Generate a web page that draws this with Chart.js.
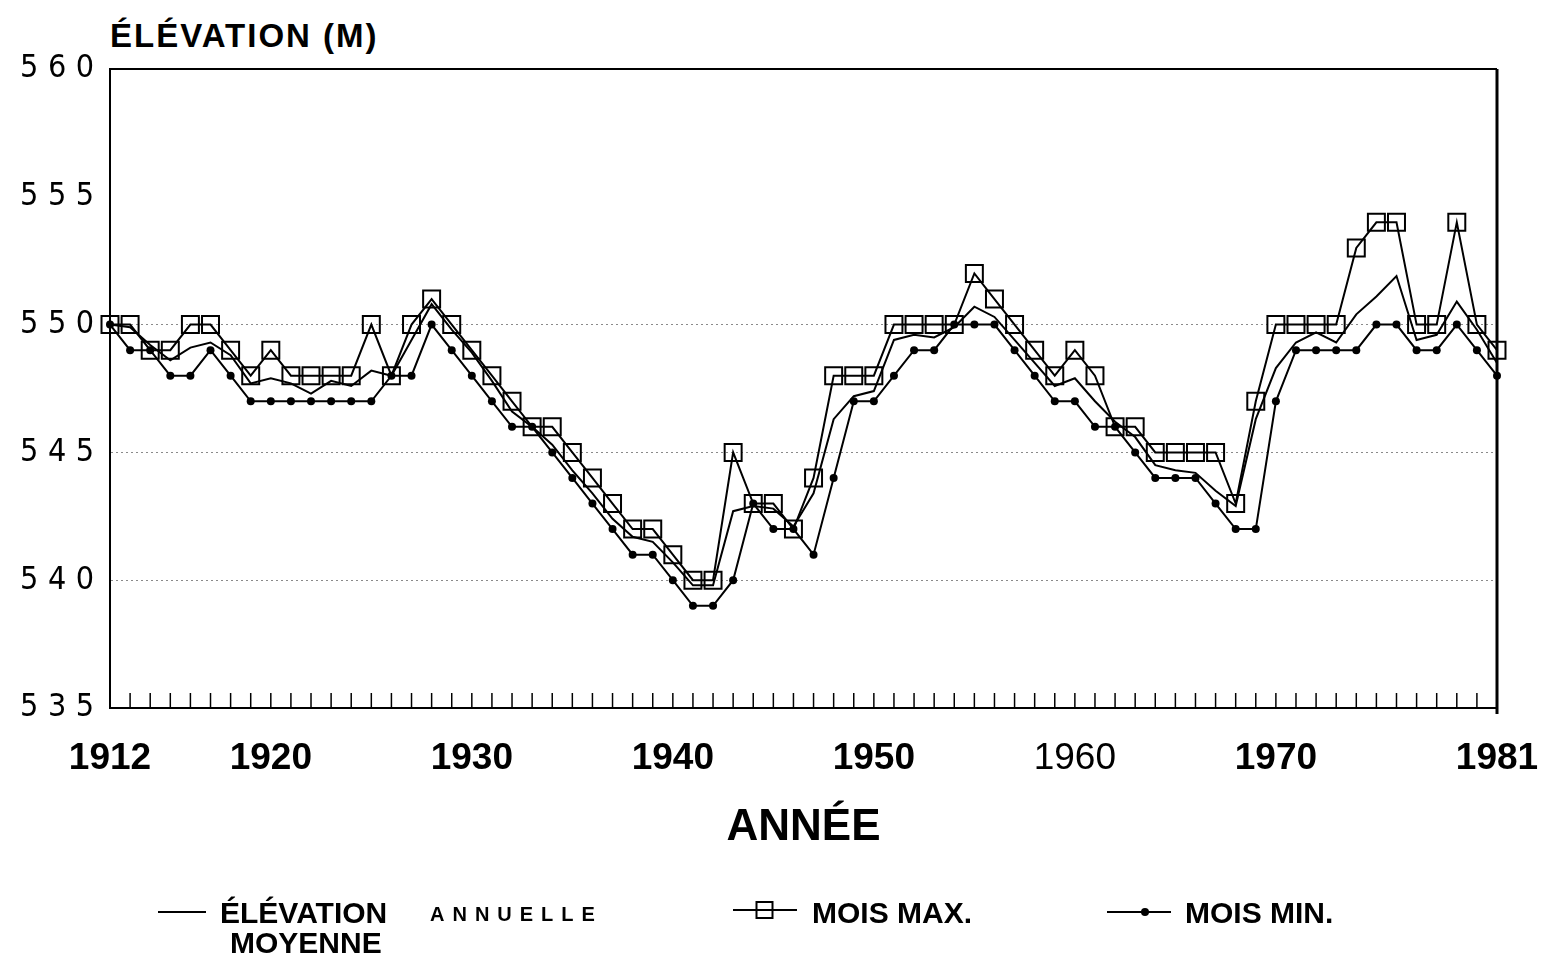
<!DOCTYPE html>
<html lang="fr">
<head>
<meta charset="utf-8">
<title>Élévation annuelle</title>
<script src="https://cdn.jsdelivr.net/npm/chart.js@4.4.1/dist/chart.umd.min.js"></script>
<style>
  html, body { margin: 0; padding: 0; background: #fff; }
  body { width: 1543px; height: 959px; position: relative; overflow: hidden; font-family: "Liberation Sans", Arial, sans-serif; color: #000; }
  #graficoNiveau { position: absolute; left: 0; top: 0; }
  .txt { position: absolute; font-weight: bold; line-height: 1; white-space: nowrap; }
  .titre { left: 110px; top: 19px; font-size: 33px; letter-spacing: 2px; }
  .leg { font-size: 30px; }
  .petit { font-size: 20px; letter-spacing: 8px; }
  svg.sym { position: absolute; }
</style>
</head>
<body>
<div class="txt titre">ÉLÉVATION (M)</div>
<canvas id="graficoNiveau" width="1543" height="959"></canvas>

<svg class="sym" style="left:156px;top:902px" width="54" height="20"><line x1="2" y1="10" x2="50" y2="10" stroke="#000" stroke-width="2"/></svg>
<div class="txt leg" style="left:220px;top:898px">ÉLÉVATION</div>
<div class="txt petit" style="left:430px;top:904px">ANNUELLE</div>
<div class="txt leg" style="left:230px;top:928px">MOYENNE</div>

<svg class="sym" style="left:731px;top:898px" width="70" height="24"><line x1="2" y1="12" x2="66" y2="12" stroke="#000" stroke-width="2"/><rect x="25.5" y="4" width="16" height="16" fill="none" stroke="#000" stroke-width="2"/></svg>
<div class="txt leg" style="left:812px;top:898px">MOIS MAX.</div>

<svg class="sym" style="left:1105px;top:902px" width="70" height="20"><line x1="2" y1="10" x2="66" y2="10" stroke="#000" stroke-width="2"/><circle cx="40" cy="10" r="4" fill="#000"/></svg>
<div class="txt leg" style="left:1185px;top:898px">MOIS MIN.</div>

<script>
const canvas = document.getElementById("graficoNiveau");

const annees = [
  1912, 1913, 1914, 1915, 1916, 1917, 1918, 1919, 1920, 1921,
  1922, 1923, 1924, 1925, 1926, 1927, 1928, 1929, 1930, 1931,
  1932, 1933, 1934, 1935, 1936, 1937, 1938, 1939, 1940, 1941,
  1942, 1943, 1944, 1945, 1946, 1947, 1948, 1949, 1950, 1951,
  1952, 1953, 1954, 1955, 1956, 1957, 1958, 1959, 1960, 1961,
  1962, 1963, 1964, 1965, 1966, 1967, 1968, 1969, 1970, 1971,
  1972, 1973, 1974, 1975, 1976, 1977, 1978, 1979, 1980, 1981
];

const anneesAffichees = [1912, 1920, 1930, 1940, 1950, 1960, 1970, 1981];
const ticksY = [535, 540, 545, 550, 555, 560];
const lignesGrille = [540, 545, 550];

// élévation annuelle moyenne (m)
const moyenne = [
  550.0, 549.9, 549.2, 548.6, 549.1, 549.3, 548.8, 547.7, 547.9, 547.7,
  547.3, 547.8, 547.6, 548.2, 548.0, 549.4, 550.8, 549.8, 548.9, 547.8,
  546.6, 546.0, 545.3, 544.3, 543.4, 542.4, 541.7, 541.5, 540.7, 539.8,
  539.8, 542.7, 542.9, 542.8, 542.1, 543.4, 546.3, 547.2, 547.4, 549.4,
  549.6, 549.5, 549.9, 550.7, 550.3, 549.4, 548.5, 547.6, 547.9, 547.0,
  546.2, 545.6, 544.5, 544.3, 544.2, 543.5, 542.9, 546.3, 548.3, 549.3,
  549.7, 549.3, 550.4, 551.1, 551.9, 549.4, 549.6, 550.9, 549.8, 548.5
];

// mois max.
const moisMax = [
  550, 550, 549, 549, 550, 550, 549, 548, 549, 548,
  548, 548, 548, 550, 548, 550, 551, 550, 549, 548,
  547, 546, 546, 545, 544, 543, 542, 542, 541, 540,
  540, 545, 543, 543, 542, 544, 548, 548, 548, 550,
  550, 550, 550, 552, 551, 550, 549, 548, 549, 548,
  546, 546, 545, 545, 545, 545, 543, 547, 550, 550,
  550, 550, 553, 554, 554, 550, 550, 554, 550, 549
];

// mois min.
const moisMin = [
  550, 549, 549, 548, 548, 549, 548, 547, 547, 547,
  547, 547, 547, 547, 548, 548, 550, 549, 548, 547,
  546, 546, 545, 544, 543, 542, 541, 541, 540, 539,
  539, 540, 543, 542, 542, 541, 544, 547, 547, 548,
  549, 549, 550, 550, 550, 549, 548, 547, 547, 546,
  546, 545, 544, 544, 544, 543, 542, 542, 547, 549,
  549, 549, 549, 550, 550, 549, 549, 550, 549, 548
];

function espacerChiffres(valeur) {
  return String(valeur).split("").join("\u2004");
}

// cadre du graphique + petites graduations annuelles vers le haut
const cadre = {
  id: "cadre",
  afterDraw(chart) {
    const { ctx: c, chartArea: zone, scales } = chart;
    c.save();
    c.strokeStyle = "#000";
    c.lineWidth = 2;
    c.beginPath();
    c.moveTo(zone.left, zone.top);
    c.lineTo(zone.right, zone.top);
    c.stroke();
    c.lineWidth = 3;
    c.beginPath();
    c.moveTo(zone.right, zone.top);
    c.lineTo(zone.right, zone.bottom + 6);
    c.stroke();
    c.lineWidth = 1.5;
    annees.forEach((annee, i) => {
      const x = scales.x.getPixelForValue(i);
      c.beginPath();
      c.moveTo(x, zone.bottom);
      c.lineTo(x, zone.bottom - 15);
      c.stroke();
    });
    c.restore();
  }
};

new Chart(canvas, {
  type: "line",
  data: {
    labels: annees,
    datasets: [
      {
        label: "ÉLÉVATION ANNUELLE MOYENNE",
        data: moyenne,
        borderColor: "#000",
        borderWidth: 2,
        pointRadius: 0,
        tension: 0
      },
      {
        label: "MOIS MAX.",
        data: moisMax,
        borderColor: "#000",
        borderWidth: 2,
        pointStyle: "rect",
        pointRadius: 12,
        pointBorderWidth: 2,
        pointBorderColor: "#000",
        pointBackgroundColor: "rgba(0,0,0,0)",
        tension: 0
      },
      {
        label: "MOIS MIN.",
        data: moisMin,
        borderColor: "#000",
        borderWidth: 2,
        pointStyle: "circle",
        pointRadius: 4,
        pointBorderWidth: 0,
        pointBackgroundColor: "#000",
        tension: 0
      }
    ]
  },
  options: {
    responsive: false,
    animation: false,
    layout: { padding: { left: 0, right: 46, top: 69, bottom: 105 } },
    plugins: {
      legend: { display: false },
      tooltip: { enabled: false }
    },
    scales: {
      x: {
        type: "category",
        offset: false,
        grid: { display: false, drawTicks: false },
        border: { display: true, color: "#000", width: 2 },
        afterFit: scale => {
          scale.height = 146;
          scale.paddingLeft = 0;
          scale.paddingRight = 0;
        },
        ticks: {
          autoSkip: false,
          maxRotation: 0,
          padding: 29,
          color: "#000",
          font: ctx => ({
            family: "'Liberation Sans', Arial, sans-serif",
            size: 37,
            weight: annees[ctx.index] === 1960 ? "normal" : "bold"
          }),
          callback: (valeur, index) => anneesAffichees.includes(annees[index]) ? String(annees[index]) : ""
        },
        title: {
          display: true,
          text: "ANNÉE",
          color: "#000",
          font: { family: "'Liberation Sans', Arial, sans-serif", size: 44, weight: "bold" },
          padding: { top: 0, bottom: 0 }
        }
      },
      y: {
        min: 535,
        max: 560,
        afterFit: scale => { scale.width = 110; },
        afterBuildTicks: scale => { scale.ticks = ticksY.map(v => ({ value: v })); },
        grid: {
          drawTicks: false,
          lineWidth: 1,
          color: ctx => lignesGrille.includes(ctx.tick && ctx.tick.value) ? "#8a8a8a" : "rgba(0,0,0,0)"
        },
        border: { display: true, color: "#000", width: 2, dash: [2, 3] },
        ticks: {
          padding: 16,
          color: "#000",
          font: { family: "'Liberation Sans Narrow', 'DejaVu Sans Condensed', sans-serif", size: 32 },
          callback: valeur => espacerChiffres(valeur)
        }
      }
    }
  },
  plugins: [cadre]
});
</script>
</body>
</html>
